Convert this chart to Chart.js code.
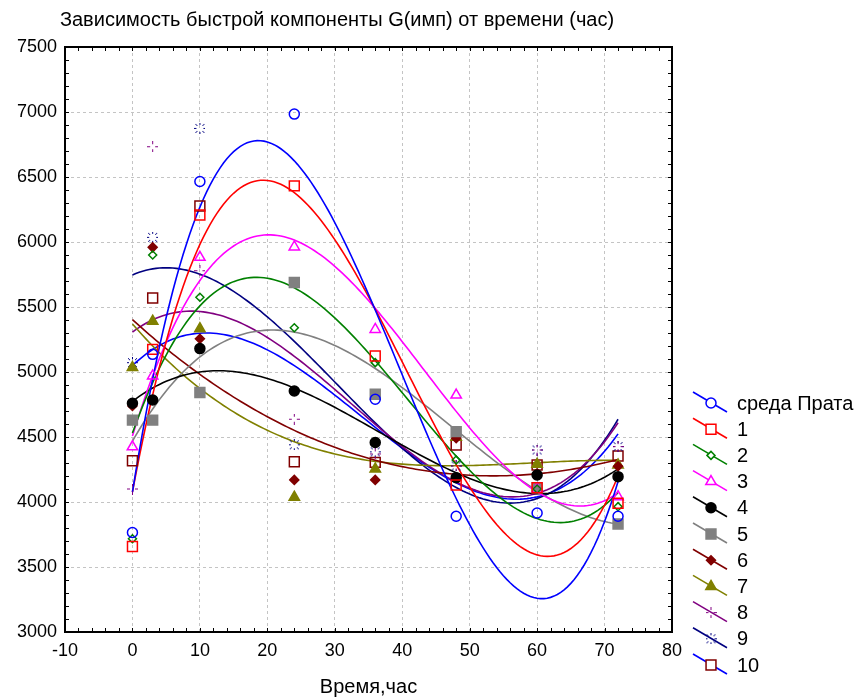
<!DOCTYPE html>
<html>
<head>
<meta charset="utf-8">
<script src="https://cdn.jsdelivr.net/npm/chart.js@4.4.0/dist/chart.umd.min.js"></script>
<style>
  html, body { margin: 0; padding: 0; background: #fff; }
</style>
</head>
<body>
<canvas id="chart" width="858" height="699"></canvas>
<script>
// время измерения, час
const hours = [0, 3, 10, 24, 36, 48, 60, 72];

// значения G(имп)
const prata = [3765, 5136, 6465, 6984, 4790, 3890, 3915, 3890];
const s1 = [3658, 5174, 6208, 6432, 5123, 4131, 4110, 3990];
const s2 = [3717, 5900, 5575, 5340, 5072, 4323, 4100, 3964];
const s3 = [4425, 4970, 5882, 5962, 5327, 4823, 4100, 4041];
const s4 = [4760, 4785, 5180, 4854, 4458, 4187, 4208, 4195];
const s5 = [4630, 4630, 4842, 5688, 4829, 4541, 4110, 3831];
const s6 = [4739, 5959, 5256, 4170, 4170, 4490, 4220, 4275];
const s7 = [5034, 5391, 5333, 4037, 4254, 4498, 4290, 4285];
const s8 = [4100, 6733, 5779, 4637, 4370, 4277, 4400, 4426];
const s9 = [5072, 6036, 6874, 4440, 4386, 4277, 4400, 4426];
const s10 = [4317, 5569, 6277, 4310, 4305, 4438, 4285, 4354];

const names = ['среда Прата', '1', '2', '3', '4', '5', '6', '7', '8', '9', '10'];
const allSeries = [prata, s1, s2, s3, s4, s5, s6, s7, s8, s9, s10];

const xTicks = [-10, 0, 10, 20, 30, 40, 50, 60, 70, 80];
const yTicks = [3000, 3500, 4000, 4500, 5000, 5500, 6000, 6500, 7000, 7500];

const FONT = 'Arial, "Liberation Sans", sans-serif';

// маркеры 8 и 9 (пунктирные)
function crossMarker(color) {
  var c = document.createElement('canvas');
  c.width = 11; c.height = 11;
  var g = c.getContext('2d');
  g.fillStyle = color;
  g.fillRect(5, 0, 1, 3); g.fillRect(5, 8, 1, 3);
  g.fillRect(0, 5, 3, 1); g.fillRect(8, 5, 3, 1);
  return c;
}
function starMarker(color) {
  var c = document.createElement('canvas');
  c.width = 11; c.height = 11;
  var g = c.getContext('2d');
  g.fillStyle = color;
  [[5,0],[5,1],[5,9],[5,10],[0,5],[1,5],[9,5],[10,5],
   [1,1],[2,2],[9,1],[8,2],[1,9],[2,8],[9,9],[8,8]].forEach(function (p) { g.fillRect(p[0], p[1], 1, 1); });
  return c;
}

const styles = [
  { line: '#0000ff', color: '#0000ff', pt: 'circle', r: 5, fill: false },
  { line: '#ff0000', color: '#ff0000', pt: 'rect', r: 7, fill: false },
  { line: '#008000', color: '#008000', pt: 'rectRot', r: 4, fill: false },
  { line: '#ff00ff', color: '#ff00ff', pt: 'triangle', r: 6, fill: false },
  { line: '#000000', color: '#000000', pt: 'circle', r: 5, fill: true },
  { line: '#808080', color: '#808080', pt: 'rect', r: 7, fill: true },
  { line: '#800000', color: '#800000', pt: 'rectRot', r: 4.5, fill: true },
  { line: '#808000', color: '#808000', pt: 'triangle', r: 6, fill: true },
  { line: '#800080', color: '#800080', pt: crossMarker('#800080'), r: 5, fill: true },
  { line: '#000080', color: '#000080', pt: starMarker('#000080'), r: 5, fill: true },
  { line: '#0000ff', color: '#800000', pt: 'rect', r: 7, fill: false }
];

// полиномиальная регрессия 3-й степени по точкам
function cubicFit(xs, ys) {
  var n = 4, A = [], b = [];
  for (var i = 0; i < n; i++) { A.push([0, 0, 0, 0]); b.push(0); }
  xs.forEach(function (x, k) {
    var t = x / 72;
    for (var i = 0; i < n; i++) {
      for (var j = 0; j < n; j++) A[i][j] += Math.pow(t, i + j);
      b[i] += ys[k] * Math.pow(t, i);
    }
  });
  for (var p = 0; p < n; p++) {
    for (var r = p + 1; r < n; r++) {
      var f = A[r][p] / A[p][p];
      for (var c = p; c < n; c++) A[r][c] -= f * A[p][c];
      b[r] -= f * b[p];
    }
  }
  var coef = [0, 0, 0, 0];
  for (var i = n - 1; i >= 0; i--) {
    var s = b[i];
    for (var j = i + 1; j < n; j++) s -= A[i][j] * coef[j];
    coef[i] = s / A[i][i];
  }
  return function (x) {
    var t = x / 72;
    return coef[0] + coef[1] * t + coef[2] * t * t + coef[3] * t * t * t;
  };
}

var datasets = [];
allSeries.forEach(function (vals, i) {
  var st = styles[i];
  var f = cubicFit(hours, vals);
  var curve = [];
  for (var x = 0; x <= 72; x += 0.5) curve.push({ x: x, y: f(x) });
  datasets.push({
    label: names[i] + ' fit',
    data: curve,
    showLine: true,
    borderColor: st.line,
    borderWidth: 1.6,
    pointRadius: 0,
    order: 2
  });
  datasets.push({
    label: names[i],
    data: hours.map(function (h, k) { return { x: h, y: vals[k] }; }),
    showLine: false,
    pointStyle: st.pt,
    pointRadius: st.r,
    borderColor: st.color,
    backgroundColor: st.fill ? st.color : 'rgba(0,0,0,0)',
    pointBorderWidth: 1.5,
    order: 1
  });
});

const PLOT = { left: 65, top: 47, right: 672, bottom: 632 };

const decor = {
  id: 'decor',
  afterDraw: function (chart) {
    var ctx = chart.ctx, xs = chart.scales.x, ys = chart.scales.y;
    var a = chart.chartArea;
    ctx.save();
    // рамка
    ctx.strokeStyle = '#000';
    ctx.lineWidth = 2;
    ctx.strokeRect(a.left, a.top, a.right - a.left, a.bottom - a.top);
    // засечки внутрь
    ctx.lineWidth = 1;
    ctx.beginPath();
    for (var v = -10; v <= 80; v += 2) {
      var px = Math.round(xs.getPixelForValue(v)) + 0.5;
      ctx.moveTo(px, a.top); ctx.lineTo(px, a.top + 4);
      ctx.moveTo(px, a.bottom); ctx.lineTo(px, a.bottom - 4);
    }
    for (var w = 3000; w <= 7500; w += 100) {
      var py = Math.round(ys.getPixelForValue(w)) + 0.5;
      ctx.moveTo(a.left, py); ctx.lineTo(a.left + 4, py);
      ctx.moveTo(a.right, py); ctx.lineTo(a.right - 4, py);
    }
    ctx.stroke();

    // заголовок
    ctx.fillStyle = '#000';
    ctx.font = '20px ' + FONT;
    ctx.textAlign = 'center';
    ctx.textBaseline = 'middle';
    ctx.fillText('Зависимость быстрой компоненты G(имп) от времени (час)', 337, 20);

    // легенда
    ctx.textAlign = 'left';
    names.forEach(function (name, i) {
      var st = styles[i];
      var yc = 404 + i * 26.2;
      ctx.strokeStyle = st.line;
      ctx.lineWidth = 1.6;
      ctx.beginPath();
      ctx.moveTo(693, yc - 12);
      ctx.lineTo(727, yc + 8);
      ctx.stroke();
      ctx.strokeStyle = st.color;
      ctx.fillStyle = st.fill ? st.color : '#fff';
      ctx.lineWidth = 1.5;
      Chart.helpers.drawPoint(ctx, { pointStyle: st.pt, radius: st.r, borderWidth: 1.5, rotation: 0 }, 711, yc - 1);
      ctx.fillStyle = '#000';
      ctx.fillText(name, 737, yc);
    });
    ctx.restore();
  }
};

new Chart(document.getElementById('chart'), {
  type: 'scatter',
  data: { datasets: datasets },
  options: {
    responsive: false,
    animation: false,
    layout: { padding: { left: 0, top: PLOT.top, right: 858 - PLOT.right, bottom: 0 } },
    plugins: { legend: { display: false }, tooltip: { enabled: false }, title: { display: false } },
    scales: {
      x: {
        type: 'linear',
        min: -10, max: 80,
        afterBuildTicks: function (s) { s.ticks = xTicks.map(function (v) { return { value: v }; }); },
        afterFit: function (s) { s.height = 699 - PLOT.bottom; },
        grid: { color: '#c4c4c4', lineWidth: 1, drawTicks: false },
        border: { display: false, dash: [3, 3] },
        ticks: { color: '#000', font: { family: FONT, size: 18 }, padding: 8, maxRotation: 0,
                 callback: function (v) { return String(v); } },
        title: { display: true, text: 'Время,час', color: '#000', font: { family: FONT, size: 20 }, padding: { top: 0, bottom: 0 } }
      },
      y: {
        type: 'linear',
        min: 3000, max: 7500,
        afterBuildTicks: function (s) { s.ticks = yTicks.map(function (v) { return { value: v }; }); },
        afterFit: function (s) { s.width = PLOT.left; },
        grid: { color: '#c4c4c4', lineWidth: 1, drawTicks: false },
        border: { display: false, dash: [3, 3] },
        ticks: { color: '#000', font: { family: FONT, size: 18 }, padding: 8,
                 callback: function (v) { return String(v); } }
      }
    }
  },
  plugins: [decor]
});
</script>
</body>
</html>
